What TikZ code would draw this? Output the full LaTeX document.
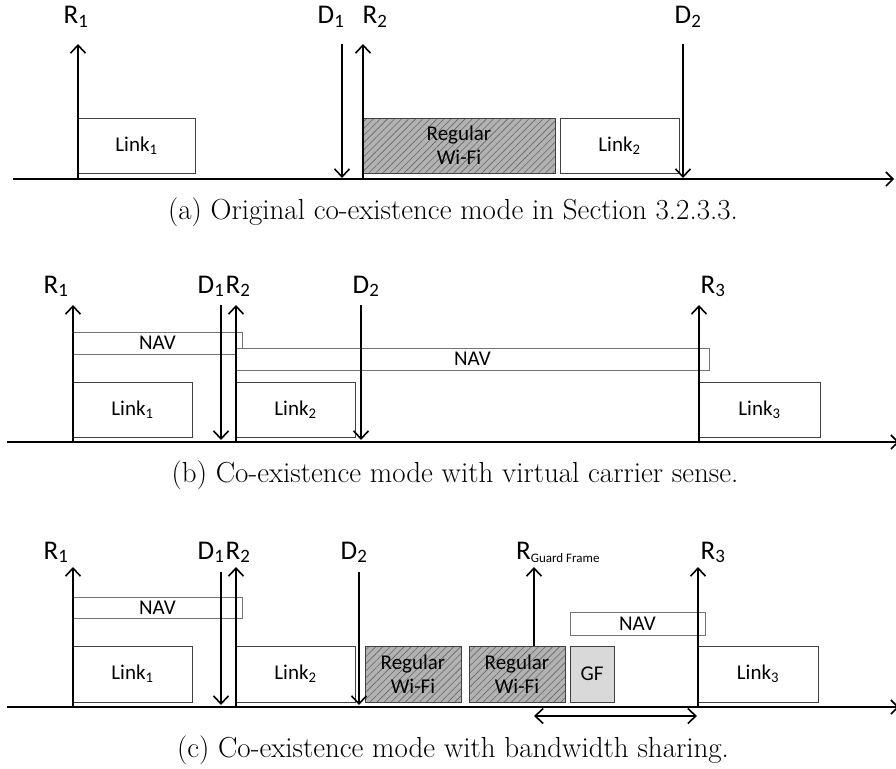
\documentclass[tikz,border=0pt]{standalone}
\usepackage{fontspec}
\newfontfamily\carlito{Carlito}
\usetikzlibrary{arrows.meta,patterns.meta}

\tikzset{
  timeline/.style={line width=1.8pt, -{Straight Barb[length=7pt,width=14pt,line width=1.6pt]}},
  event/.style={line width=1.7pt, -{Straight Barb[length=8pt,width=15pt,line width=1.6pt]}},
  slot/.style={draw=black!75, line width=1pt, fill=white, inner sep=0pt, align=center,
    font=\carlito\fontsize{21}{24}\selectfont},
  navbox/.style={slot, draw=black!55},
  wifi/.style={slot, preaction={fill=black!30},
    pattern={Lines[angle=45,distance=5pt,line width=0.6pt]}, pattern color=black!60},
  guard/.style={slot, fill=black!15},
  tag/.style={anchor=base, inner sep=0pt, font=\carlito\fontsize{27}{30}\selectfont},
  caption/.style={font=\fontsize{29}{34}\selectfont}
}

% box from (x1,y1) to (x2,y2)
\newcommand{\slotbox}[7][slot]{%
  \node[#1, minimum width={#5pt-#3pt}, minimum height={#6pt-#4pt}]
    (#2) at ({(#3+#5)/2},{(#4+#6)/2}) {#7};}

\begin{document}
\begin{tikzpicture}[x=1pt,y=-1pt]
  \useasboundingbox (0,0) rectangle (896,768);

  % (a)
  \slotbox{aLink1}{78}{118}{195}{173}{Link\textsubscript{1}}
  \slotbox[wifi]{aWifi}{363}{118}{555}{173}{Regular\\Wi-Fi}
  \slotbox{aLink2}{560}{118}{679}{173}{Link\textsubscript{2}}
  \coordinate (aStart) at (13,179);
  \coordinate (aEnd) at (894,179);
  \draw[timeline] (aStart) -- (aEnd);
  \foreach \x/\lx/\lab in {78/76/R\textsubscript{1}, 363/375/R\textsubscript{2}}{
    \draw[event] (\x,179) -- (\x,44);
    \node[tag] at (\lx,24) {\lab};
  }
  \foreach \x/\lx/\lab in {342/331/D\textsubscript{1}, 683/688/D\textsubscript{2}}{
    \draw[event] (\x,44) -- (\x,178);
    \node[tag] at (\lx,24) {\lab};
  }
  \node[caption] (capA) at (453,212) {(a) Original co-existence mode in Section 3.2.3.3.};

  % (b)
  \slotbox[navbox]{bNav1}{73}{332}{242}{354}{NAV}
  \slotbox[navbox]{bNav2}{236}{348}{709}{370}{NAV}
  \slotbox{bLink1}{73}{382}{192}{437}{Link\textsubscript{1}}
  \slotbox{bLink2}{236}{382}{355}{437}{Link\textsubscript{2}}
  \slotbox{bLink3}{699}{382}{820}{437}{Link\textsubscript{3}}
  \coordinate (bStart) at (7,442);
  \coordinate (bEnd) at (899,442);
  \draw[timeline] (bStart) -- (bEnd);
  \foreach \x/\lx/\lab in {73/56/R\textsubscript{1}, 236/238/R\textsubscript{2}, 699/713/R\textsubscript{3}}{
    \draw[event] (\x,442) -- (\x,305);
    \node[tag] at (\lx,293) {\lab};
  }
  \foreach \x/\lx/\lab in {221/211/D\textsubscript{1}, 361/366/D\textsubscript{2}}{
    \draw[event] (\x,305) -- (\x,440);
    \node[tag] at (\lx,293) {\lab};
  }
  \node[caption] (capB) at (455,475) {(b) Co-existence mode with virtual carrier sense.};

  % (c)
  \slotbox[navbox]{cNav1}{73}{597}{242}{618}{NAV}
  \slotbox[navbox]{cNav3}{570}{612}{705}{635}{NAV}
  \slotbox{cLink1}{73}{646}{192}{702}{Link\textsubscript{1}}
  \slotbox{cLink2}{236}{646}{355}{702}{Link\textsubscript{2}}
  \slotbox[wifi]{cWifi1}{365}{646}{461}{702}{Regular\\Wi-Fi}
  \slotbox[wifi]{cWifi2}{469}{646}{565}{702}{Regular\\Wi-Fi}
  \slotbox[guard]{cGF}{570}{646}{614}{702}{GF}
  \slotbox{cLink3}{698}{646}{818}{702}{Link\textsubscript{3}}
  \coordinate (cStart) at (7,707);
  \coordinate (cEnd) at (899,707);
  \draw[timeline] (cStart) -- (cEnd);
  \foreach \x/\lx/\lab in {73/56/R\textsubscript{1}, 236/238/R\textsubscript{2}, 698/713/R\textsubscript{3}}{
    \draw[event] (\x,707) -- (\x,567);
    \node[tag] at (\lx,559) {\lab};
  }
  \foreach \x/\lx/\lab in {221/211/D\textsubscript{1}, 359/354/D\textsubscript{2}}{
    \draw[event] (\x,572) -- (\x,705);
    \node[tag] at (\lx,559) {\lab};
  }
  \draw[event] (cWifi2.north -| 534,0) -- (534,567);
  \node[tag, anchor=base west] (cGuardLab) at (516,559)
    {R\textsubscript{\fontsize{13}{14}\selectfont Guard Frame}};
  \coordinate (cShareL) at (534,716);
  \coordinate (cShareR) at (697,716);
  \draw[event, {Straight Barb[length=8pt,width=15pt,line width=1.6pt]}-{Straight Barb[length=8pt,width=15pt,line width=1.6pt]}] (cShareL) -- (cShareR);
  \node[caption] (capC) at (453,750) {(c) Co-existence mode with bandwidth sharing.};
\end{tikzpicture}
\end{document}
